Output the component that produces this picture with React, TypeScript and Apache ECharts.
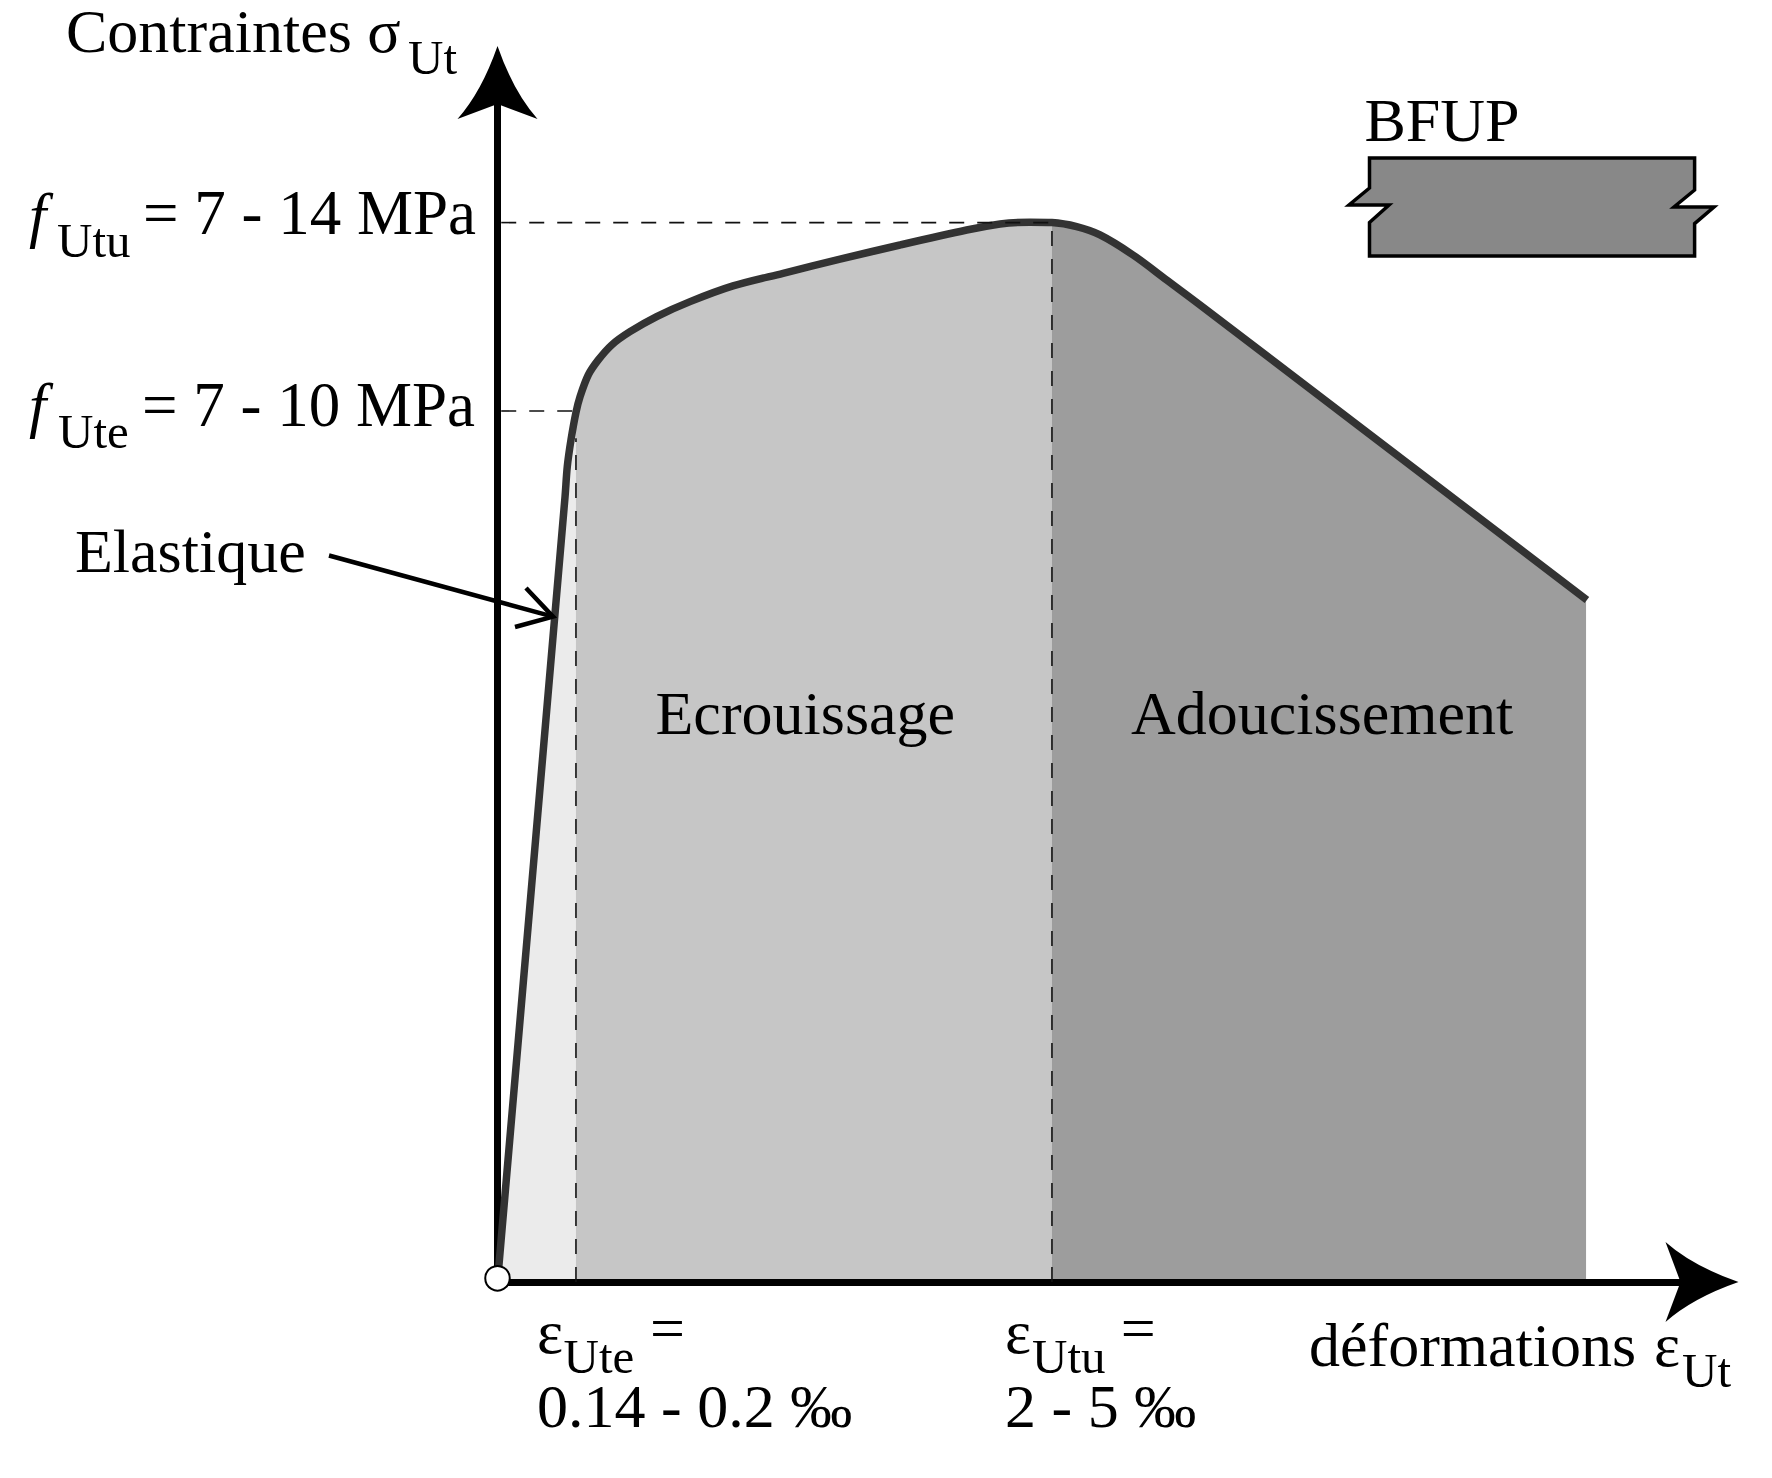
import React, { useEffect, useRef } from "react";
import * as echarts from "echarts";

const curve: [number, number][] = [
  [0, 0], [5.44, 63.48], [5.62, 65.91], [5.92, 68.07], [6.32, 70.28], [6.65, 71.57], [7.31, 73.32],
  [8.12, 74.54], [9.2, 75.75], [10.67, 76.82], [12.82, 78.04], [15.51, 79.25], [18.97, 80.52],
  [23.0, 81.54], [27.59, 82.68], [32.42, 83.83], [37.79, 85.04], [40.48, 85.53], [42.89, 85.67],
  [44.66, 85.64], [46.65, 85.31], [48.53, 84.64], [51.19, 83.02], [53.9, 81.0], [56.59, 78.98],
  [87.75, 55.13],
];
const epsUte = 6.32;
const epsUtu = 44.66;
const fUte = 70.41;
const fUtu = 85.64;
const epsUteDashTop = 68.2;
const axisMaxX = 95.65;
const axisMaxY = 95.55;

const FONT = '"Liberation Serif"';
const arrowPath = "path://M40 0 Q56 46 80 73 L40 58 L0 73 Q24 46 40 0 Z";

function label(text: string, x: number, baseline: number, size = 62, extra: any = {}) {
  const { italic } = extra;
  return {
    type: "text", x, y: baseline - 0.3375 * size, z: 20,
    style: {
      text, fill: "#000", align: "left", verticalAlign: "middle",
      font: `${italic ? "italic " : ""}${size}px ${FONT}`,
    },
  };
}

const SUB = 49;
const labels = [
  label("Contraintes σ", 66, 52),
  label("Ut", 408, 73.6, SUB),
  label("f", 29, 236, 62, { italic: true }),
  label("Utu", 57, 256.7, SUB),
  label("= 7 - 14 MPa", 143, 234.5, 63),
  label("f", 29, 426, 62, { italic: true }),
  label("Ute", 58, 448, SUB),
  label("= 7 - 10 MPa", 142, 426, 63),
  label("Elastique", 75, 571.5),
  label("Ecrouissage", 655.5, 734),
  label("Adoucissement", 1131, 734),
  label("BFUP", 1364.5, 140.5),
  label("ε", 537, 1352.7),
  label("Ute", 563.6, 1373, SUB),
  label("=", 650, 1349),
  label("0.14 - 0.2 ‰", 537, 1426.7),
  label("ε", 1005, 1352.7),
  label("Utu", 1032, 1373, SUB),
  label("=", 1120.7, 1349),
  label("2 - 5 ‰", 1005, 1426.7),
  label("déformations", 1309, 1365.7),
  label("ε", 1654, 1365.7),
  label("Ut", 1682, 1386.7, SUB),
];

function dashed(points: number[][]) {
  return {
    type: "line", data: points, symbol: "none", z: 6, clip: false, silent: true,
    lineStyle: { color: "#111", width: 1.6, type: [15, 13] },
  };
}

function region(points: number[][], color: string) {
  return {
    type: "line", data: points, symbol: "none", z: 2, silent: true,
    lineStyle: { width: 0 }, areaStyle: { color, opacity: 1, origin: "start" },
  };
}

const axisBase = (max: number, width: number, offset: number) => ({
  type: "value", min: 0, max, z: 3, axisTick: { show: false }, axisLabel: { show: false }, splitLine: { show: false },
  axisLine: {
    show: true, symbol: ["none", arrowPath], symbolSize: [80, 74], symbolOffset: [0, offset],
    lineStyle: { color: "#000", width },
  },
});

export default function App() {
  const ref = useRef<HTMLDivElement>(null);
  useEffect(() => {
    const chart = echarts.init(ref.current!, undefined, { renderer: "svg" });
    chart.setOption({
      animation: false,
      backgroundColor: "#fff",
      grid: { left: 497.5, top: 100, right: 1772 - 1685, bottom: 1478 - 1282, containLabel: false },
      xAxis: axisBase(axisMaxX, 7, 17),
      yAxis: axisBase(axisMaxY, 7, 17.5),
      series: [
        region(curve.filter((p) => p[0] <= epsUte), "#ebebeb"),
        region(curve.filter((p) => p[0] >= epsUte && p[0] <= epsUtu), "#c6c6c6"),
        region(curve.filter((p) => p[0] >= epsUtu).map((p, i, a) => (i === a.length - 1 ? [87.68, p[1]] : p)), "#9d9d9d"),
        dashed([[0.3, fUtu], [epsUtu, fUtu]]),
        dashed([[0.3, fUte], [6.16, fUte]]),
        dashed([[epsUte, 0], [epsUte, epsUteDashTop]]),
        dashed([[epsUtu, 0], [epsUtu, fUtu]]),
        {
          type: "line", data: curve, symbol: "none", z: 5, clip: false, silent: true, smooth: 0.3,
          lineStyle: { color: "#333", width: 7.5, cap: "butt", join: "round" },
        },
        {
          type: "scatter", data: [[0, 0.3]], symbol: "circle", symbolSize: 24.5, z: 15, silent: true, clip: false,
          itemStyle: { color: "#fff", opacity: 1, borderColor: "#000", borderWidth: 2 },
        },
      ],
      graphic: [
        ...labels,
        {
          type: "polygon", z: 18, silent: true,
          shape: {
            points: [
              [1369.5, 158], [1694.6, 158], [1694.6, 190], [1674, 207], [1714, 207], [1694.6, 223.6],
              [1694.6, 256], [1369.5, 256], [1369.5, 222.5], [1389, 205], [1349, 205], [1369.5, 188],
            ],
          },
          style: { fill: "#888", stroke: "#000", lineWidth: 3.5 },
        },
        { type: "line", z: 18, silent: true, shape: { x1: 329, y1: 555.5, x2: 553, y2: 616.6 }, style: { stroke: "#000", lineWidth: 4.5 } },
        {
          type: "polyline", z: 18, silent: true,
          shape: { points: [[526, 588], [553, 616.6], [515, 627]] },
          style: { stroke: "#000", lineWidth: 4.5, fill: "none" },
        },
      ],
    });
    return () => chart.dispose();
  }, []);
  return <div ref={ref} style={{ position: "absolute", left: 0, top: 0, width: 1772, height: 1478 }} />;
}
